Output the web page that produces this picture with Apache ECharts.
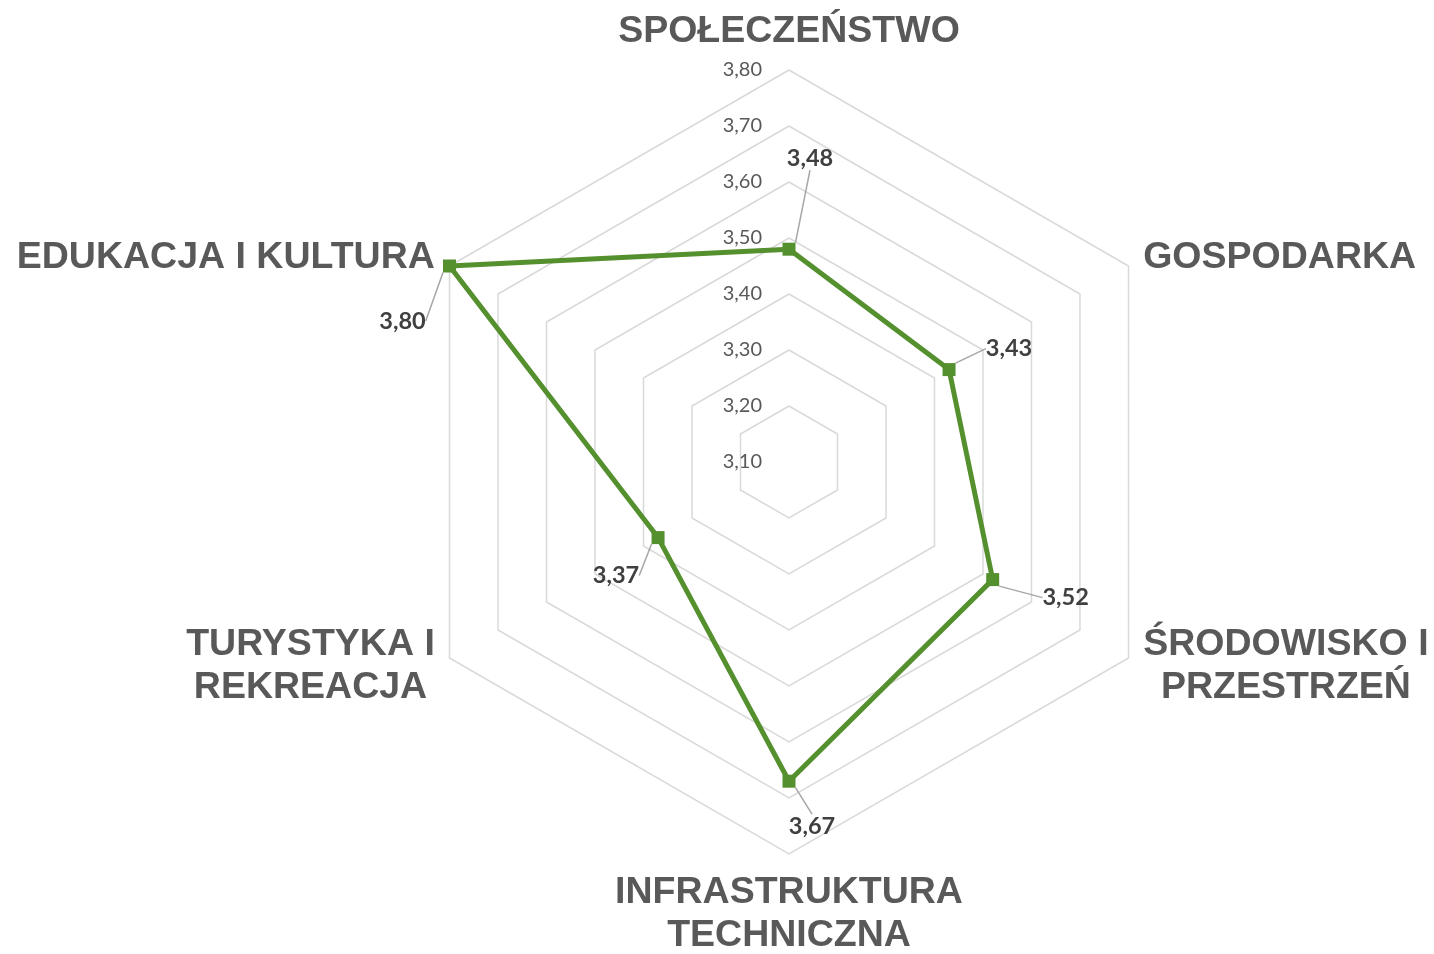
<!DOCTYPE html>
<html>
<head>
<meta charset="utf-8">
<script src="https://cdn.jsdelivr.net/npm/echarts@6/dist/echarts.min.js"></script>
<style>html,body{margin:0;padding:0;background:#fff}#c{width:1434px;height:954px}</style>
</head>
<body>
<div id="c"></div>
<script>
// Indicators listed counter-clockwise from the top (ECharts radar order)
const categories = ['SPOŁECZEŃSTWO', 'EDUKACJA I KULTURA', 'TURYSTYKA I REKREACJA', 'INFRASTRUKTURA TECHNICZNA', 'ŚRODOWISKO I PRZESTRZEŃ', 'GOSPODARKA'];
const nameLines = {
  'SPOŁECZEŃSTWO': ['SPOŁECZEŃSTWO'],
  'EDUKACJA I KULTURA': ['EDUKACJA I KULTURA'],
  'TURYSTYKA I REKREACJA': ['TURYSTYKA I', 'REKREACJA'],
  'INFRASTRUKTURA TECHNICZNA': ['INFRASTRUKTURA', 'TECHNICZNA'],
  'ŚRODOWISKO I PRZESTRZEŃ': ['ŚRODOWISKO I', 'PRZESTRZEŃ'],
  'GOSPODARKA': ['GOSPODARKA']
};
const values = [3.48, 3.80, 3.37, 3.67, 3.52, 3.43];
const axisMin = 3.10, axisMax = 3.80, axisSplits = 7;
// label offsets (px) from each point, same order
const labelOffsets = [[21, -91], [-47, 55], [-42, 38], [23, 45], [73, 18], [60, -21]];

const fmt = v => v.toFixed(2).replace('.', ',');
const chart = echarts.init(document.getElementById('c'));
chart.setOption({
  animation: false,
  radar: {
    center: [789, 462],
    radius: 392,
    startAngle: 90,
    splitNumber: axisSplits,
    shape: 'polygon',
    indicator: categories.map((n, i) => i === 0
      ? { name: n, min: axisMin, max: axisMax }
      : { name: n, min: axisMin, max: axisMax, axisLabel: { show: false } }),
    axisName: {
      formatter: n => nameLines[n].map(l => '{c|' + l + '}').join('\n'),
      rich: {
        c: { align: 'center', fontFamily: 'Liberation Sans', fontWeight: 'bold', fontSize: 37.5, color: '#595959', lineHeight: 43 }
      }
    },
    nameGap: 17,
    splitArea: { show: false },
    splitLine: { lineStyle: { color: '#d9d9d9', width: 1.5 } },
    axisLine: { show: false },
    axisTick: { show: false },
    axisLabel: {
      show: true,
      margin: 27,
      fontFamily: 'Lato',
      fontSize: 20,
      color: '#595959',
      formatter: v => fmt(v)
    }
  },
  series: [{
    type: 'radar',
    symbol: 'rect',
    symbolSize: 13,
    lineStyle: { color: '#55902f', width: 5 },
    itemStyle: { color: '#55902f' },
    label: {
      show: true,
      position: 'inside',
      fontFamily: 'Lato',
      fontWeight: 'bold',
      fontSize: 23.5,
      color: '#404040',
      formatter: p => fmt(p.value)
    },
    labelLine: { show: true, lineStyle: { color: '#a6a6a6', width: 1.5 } },
    labelLayout: p => {
      const idx = values.findIndex(v => fmt(v) === p.text);
      const o = labelOffsets[idx] || [0, 0];
      return { dx: o[0], dy: o[1] };
    },
    data: [{ value: values }]
  }]
});
</script>
</body>
</html>
